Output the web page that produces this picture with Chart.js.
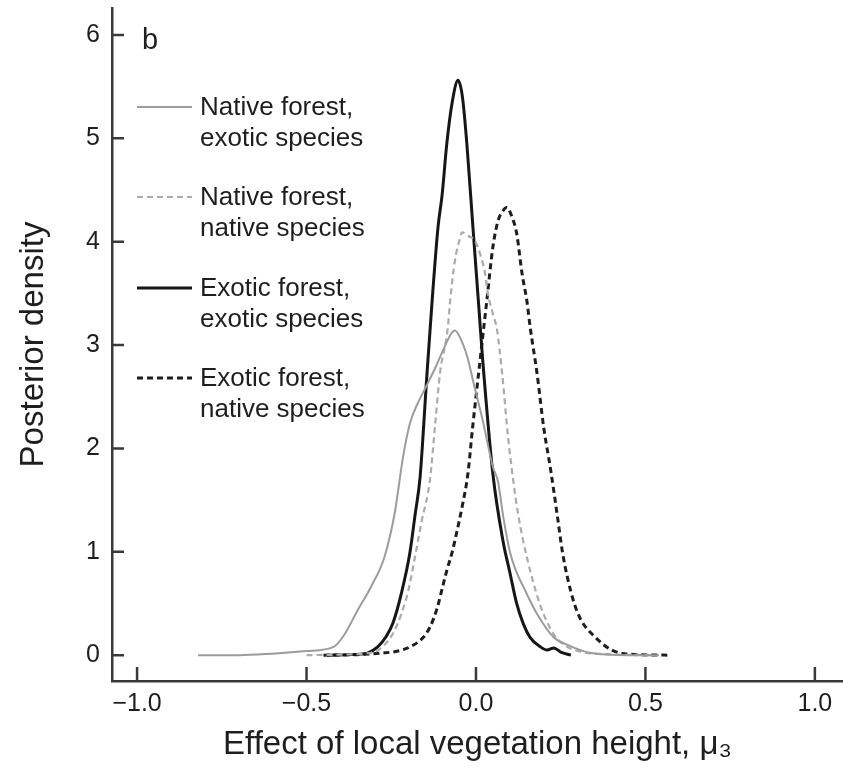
<!DOCTYPE html>
<html>
<head>
<meta charset="utf-8">
<script src="https://cdn.jsdelivr.net/npm/chart.js@4"></script>
<style>
    html, body { margin: 0; padding: 0; background: #ffffff; }
    canvas { display: block; }
</style>
</head>
<body>
<canvas id="densityChart" width="843" height="767"></canvas>
<script>
// Posterior densities of the local vegetation height effect

const xTicks = [-1, -0.5, 0, 0.5, 1];
const yTicks = [0, 1, 2, 3, 4, 5, 6];

// Native forest, exotic species
const nativeExoticX = [-0.82, -0.70, -0.62, -0.50, -0.42, -0.39, -0.35, -0.31, -0.27, -0.24, -0.215, -0.195, -0.17, -0.15, -0.12, -0.097, -0.075, -0.062, -0.04, -0.025, -0.009, 0.02, 0.05, 0.065, 0.08, 0.10, 0.12, 0.14, 0.18, 0.23, 0.27, 0.34, 0.45, 0.54];
const nativeExoticY = [0, 0, 0.01, 0.04, 0.08, 0.19, 0.43, 0.66, 0.95, 1.37, 1.92, 2.24, 2.45, 2.58, 2.78, 2.95, 3.1, 3.14, 3.02, 2.88, 2.66, 2.27, 1.82, 1.68, 1.35, 1.0, 0.8, 0.66, 0.40, 0.17, 0.10, 0.02, 0, 0];

// Native forest, native species
const nativeNativeX = [-0.50, -0.40, -0.30, -0.27, -0.245, -0.22, -0.20, -0.18, -0.16, -0.136, -0.12, -0.106, -0.083, -0.077, -0.062, -0.05, -0.041, -0.02, -0.003, 0.015, 0.027, 0.035, 0.05, 0.062, 0.077, 0.095, 0.11, 0.125, 0.15, 0.19, 0.23, 0.26, 0.30, 0.38, 0.52];
const nativeNativeY = [0, 0.005, 0.03, 0.1, 0.21, 0.4, 0.62, 0.95, 1.3, 1.69, 2.25, 2.73, 3.17, 3.4, 3.82, 4.0, 4.09, 4.05, 4.01, 3.85, 3.69, 3.5, 3.3, 3.15, 2.73, 2.1, 1.69, 1.35, 0.95, 0.48, 0.2, 0.1, 0.04, 0.01, 0];

// Exotic forest, exotic species
const exoticExoticX = [-0.44, -0.34, -0.32, -0.29, -0.265, -0.245, -0.22, -0.195, -0.18, -0.165, -0.145, -0.13, -0.112, -0.10, -0.086, -0.07, -0.053, -0.04, -0.027, -0.009, 0.009, 0.02, 0.05, 0.08, 0.10, 0.12, 0.14, 0.16, 0.19, 0.21, 0.23, 0.25, 0.28];
const exoticExoticY = [0, 0.01, 0.02, 0.08, 0.18, 0.31, 0.6, 0.99, 1.35, 1.72, 2.7, 3.4, 4.14, 4.45, 4.95, 5.35, 5.56, 5.4, 4.95, 4.14, 3.34, 2.85, 1.75, 1.1, 0.8, 0.5, 0.3, 0.17, 0.08, 0.05, 0.07, 0.03, 0];

// Exotic forest, native species
const exoticNativeX = [-0.45, -0.35, -0.28, -0.23, -0.195, -0.156, -0.136, -0.115, -0.097, -0.086, -0.07, -0.056, -0.04, -0.024, -0.01, 0.012, 0.032, 0.05, 0.065, 0.08, 0.091, 0.105, 0.12, 0.136, 0.15, 0.16, 0.18, 0.20, 0.22, 0.24, 0.255, 0.27, 0.29, 0.31, 0.35, 0.40, 0.45, 0.57];
const exoticNativeY = [0, 0.005, 0.02, 0.04, 0.08, 0.17, 0.27, 0.45, 0.68, 0.82, 1.0, 1.2, 1.45, 1.75, 2.2, 2.85, 3.43, 3.95, 4.2, 4.3, 4.33, 4.25, 4.08, 3.69, 3.43, 3.17, 2.73, 2.2, 1.8, 1.35, 1.0, 0.75, 0.5, 0.34, 0.18, 0.05, 0.01, 0];

const seriesLabels = [
    ['Native forest,', 'exotic species'],
    ['Native forest,', 'native species'],
    ['Exotic forest,', 'exotic species'],
    ['Exotic forest,', 'native species']
];

const FONT = '"Liberation Sans", Arial, Helvetica, sans-serif';
const AXIS_COLOR = '#3a3a3a';
const TEXT_COLOR = '#1e1e1e';

function toPoints(xs, ys) {
    return xs.map((x, i) => ({ x: x, y: ys[i] }));
}

function fmtTick(v, digits) {
    const s = Math.abs(v).toFixed(digits);
    return v < 0 ? '\u2212' + s : s;
}

// Inward tick marks on both axes
const innerTicks = {
    id: 'innerTicks',
    afterDraw(chart) {
        const { ctx, chartArea, scales } = chart;
        ctx.save();
        ctx.strokeStyle = AXIS_COLOR;
        ctx.lineWidth = 2.5;
        ctx.beginPath();
        xTicks.forEach(v => {
            const px = scales.x.getPixelForValue(v);
            ctx.moveTo(px, chartArea.bottom);
            ctx.lineTo(px, chartArea.bottom - 14);
        });
        yTicks.forEach(v => {
            const py = scales.y.getPixelForValue(v);
            ctx.moveTo(chartArea.left, py);
            ctx.lineTo(chartArea.left + 12, py);
        });
        ctx.stroke();
        ctx.restore();
    }
};

// Panel letter and two-line legend
const panelLegend = {
    id: 'panelLegend',
    afterDraw(chart) {
        const { ctx } = chart;
        ctx.save();
        ctx.fillStyle = TEXT_COLOR;
        ctx.font = '29px ' + FONT;
        ctx.textBaseline = 'alphabetic';
        ctx.textAlign = 'left';
        ctx.fillText('b', 142, 49);

        const rowTops = [107, 197, 288, 378];
        ctx.font = '26px ' + FONT;
        ctx.textBaseline = 'middle';
        chart.data.datasets.forEach((ds, i) => {
            const y = rowTops[i];
            ctx.save();
            ctx.strokeStyle = ds.borderColor;
            ctx.lineWidth = ds.borderWidth;
            ctx.setLineDash(ds.borderDash || []);
            ctx.beginPath();
            ctx.moveTo(137, y);
            ctx.lineTo(192, y);
            ctx.stroke();
            ctx.restore();
            ds.label.forEach((line, j) => {
                ctx.fillText(line, 200, y + 1 + j * 31);
            });
        });
        ctx.restore();
    }
};

const ctx = document.getElementById('densityChart');

new Chart(ctx, {
    type: 'line',
    data: {
        datasets: [
            {
                label: seriesLabels[0],
                data: toPoints(nativeExoticX, nativeExoticY),
                borderColor: '#9c9c9c',
                borderWidth: 2
            },
            {
                label: seriesLabels[1],
                data: toPoints(nativeNativeX, nativeNativeY),
                borderColor: '#ababab',
                borderWidth: 2.2,
                borderDash: [6, 4]
            },
            {
                label: seriesLabels[2],
                data: toPoints(exoticExoticX, exoticExoticY),
                borderColor: '#161616',
                borderWidth: 3
            },
            {
                label: seriesLabels[3],
                data: toPoints(exoticNativeX, exoticNativeY),
                borderColor: '#1e1e1e',
                borderWidth: 3,
                borderDash: [6, 4]
            }
        ]
    },
    options: {
        responsive: false,
        animation: false,
        devicePixelRatio: 1,
        layout: {
            padding: { top: 8, right: 0, left: 0, bottom: 0 }
        },
        elements: {
            point: { radius: 0 },
            line: { cubicInterpolationMode: 'monotone', fill: false }
        },
        plugins: {
            legend: { display: false },
            tooltip: { enabled: false }
        },
        scales: {
            x: {
                type: 'linear',
                min: -1.074,
                max: 1.083,
                afterBuildTicks: scale => {
                    scale.ticks = xTicks.map(v => ({ value: v }));
                },
                afterFit: scale => {
                    scale.height = 86;
                    scale.paddingLeft = 0;
                    scale.paddingRight = 0;
                },
                ticks: {
                    padding: 0,
                    color: TEXT_COLOR,
                    font: { family: FONT, size: 25 },
                    maxRotation: 0,
                    callback: v => fmtTick(v, 1)
                },
                grid: { display: false },
                border: { display: true, color: AXIS_COLOR, width: 2.5 },
                title: {
                    display: true,
                    text: 'Effect of local vegetation height, \u03bc\u2083',
                    color: TEXT_COLOR,
                    font: { family: FONT, size: 33 },
                    padding: { top: 0, bottom: 2 }
                }
            },
            y: {
                min: -0.25,
                max: 6.26,
                afterBuildTicks: scale => {
                    scale.ticks = yTicks.map(v => ({ value: v }));
                },
                afterFit: scale => {
                    scale.width = 112;
                    scale.paddingTop = 0;
                    scale.paddingBottom = 0;
                },
                ticks: {
                    padding: 4,
                    color: TEXT_COLOR,
                    font: { family: FONT, size: 25 },
                    callback: v => fmtTick(v, 0)
                },
                grid: { display: false },
                border: { display: true, color: AXIS_COLOR, width: 2.5 },
                title: {
                    display: true,
                    text: 'Posterior density',
                    color: TEXT_COLOR,
                    font: { family: FONT, size: 33 },
                    padding: { top: 14, bottom: 0 }
                }
            }
        }
    },
    plugins: [innerTicks, panelLegend]
});
</script>
</body>
</html>
